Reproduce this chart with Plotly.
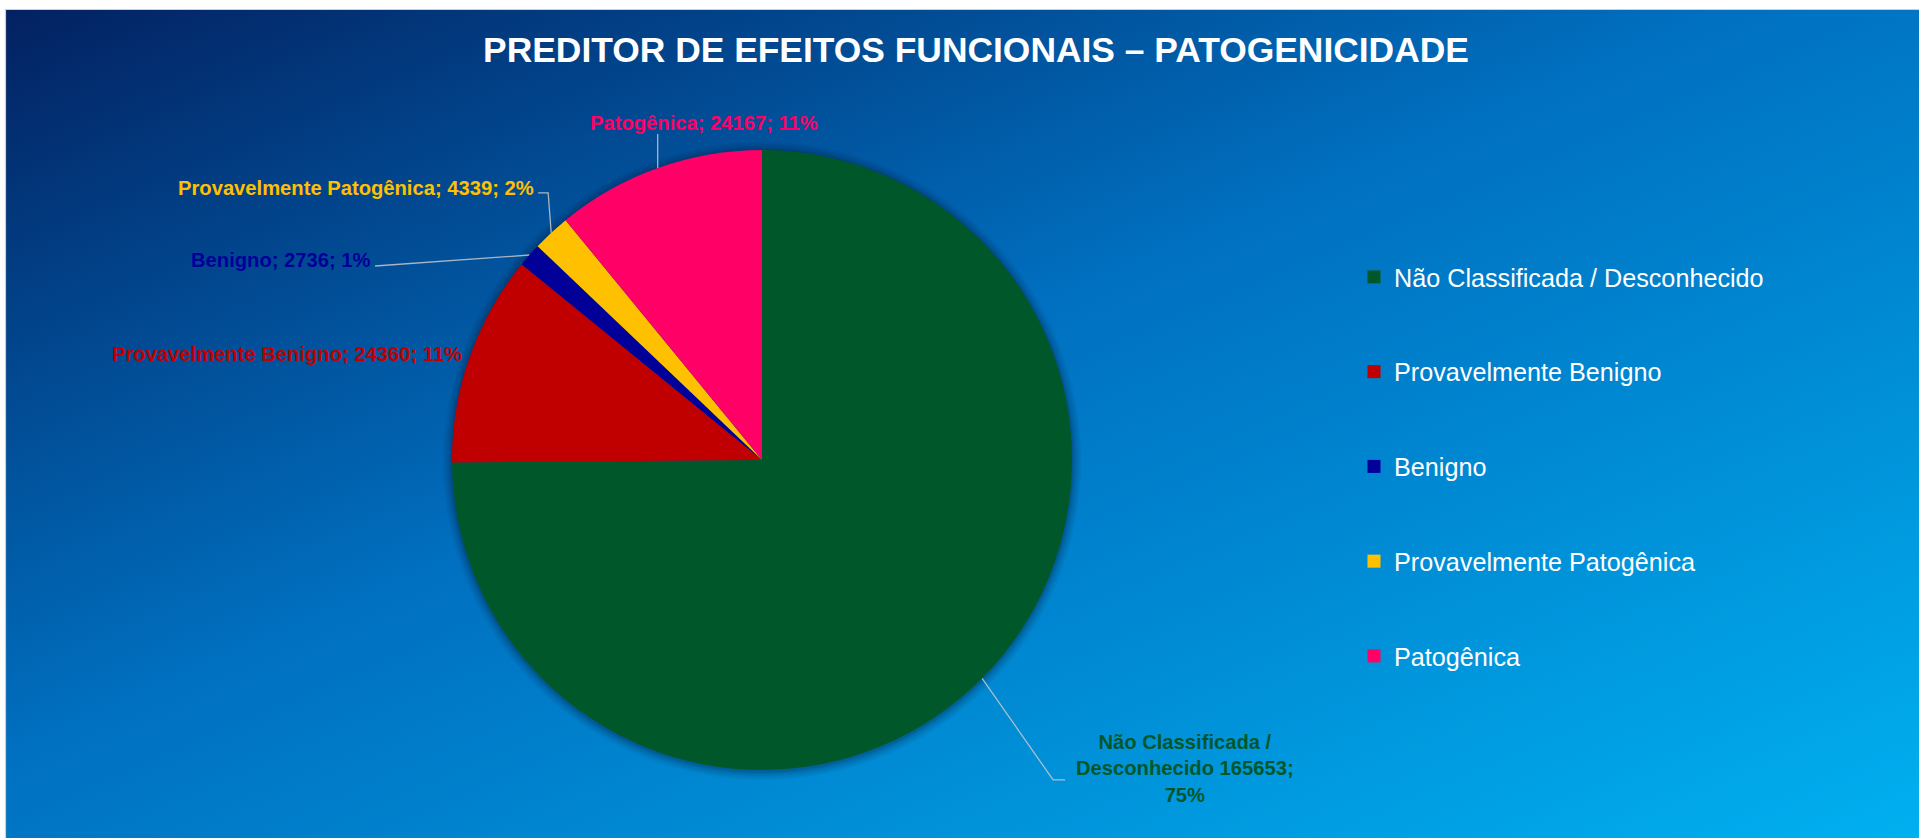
import base64
import math
import plotly.graph_objects as go

# ---------------- data ----------------
categories = [
    "Não Classificada / Desconhecido",
    "Provavelmente Benigno",
    "Benigno",
    "Provavelmente Patogênica",
    "Patogênica",
]
values = [165653, 24360, 2736, 4339, 24167]
slice_colors = ["#00582A", "#C00000", "#000099", "#FFC000", "#FF0066"]
title_text = "PREDITOR DE EFEITOS FUNCIONAIS – PATOGENICIDADE"

# ---------------- geometry / style ----------------
W, H = 1919, 838
CX, CY, R = 762, 460, 310          # pie centre / radius in pixels
FRAME_X0, FRAME_Y0 = 6, 10         # white strip around the chart area
FONT = "Liberation Sans, Arial, sans-serif"
LABEL_SIZE = 20.2
LEGEND_SIZE = 25.2
TITLE_SIZE = 35.4
LEADER_COLOR = "rgba(200,200,200,0.85)"

total = sum(values)
percents = [round(v / total * 100) for v in values]

# label texts (Excel-like "Category; value; pct")
label_texts = [f"{c}; {v}; {p}%" for c, v, p in zip(categories, values, percents)]
label_texts[0] = f"Não Classificada /<br>Desconhecido {values[0]};<br>{percents[0]}%"

# per-label placement relative to the slice anchor point (pixels)
label_style = [
    dict(off=(202.5, 90.5), xanchor="center", leader=[(71, 101.6), (83, 101.6)]),
    dict(off=(-6, -3.3), xanchor="right", leader=[]),
    dict(off=(-156, 5), xanchor="right", leader=[(-154.4, 11)]),
    dict(off=(-15.5, -44.8), xanchor="right", leader=[(-3, -39.8), (-13, -39.8)]),
    dict(off=(46.5, -45), xanchor="center", leader=[(0, -34)]),
]

fig = go.Figure()

# ---------------- pie ----------------
fig.add_trace(go.Pie(
    labels=categories,
    values=values,
    sort=False,
    direction="clockwise",
    rotation=0,
    marker=dict(colors=slice_colors, line=dict(width=0)),
    textposition="none",
    showlegend=False,
    hoverinfo="label+value+percent",
    domain=dict(
        x=[(CX - R) / W, (CX + R) / W],
        y=[(H - CY - R) / H, (H - CY + R) / H],
    ),
))

# ---------------- legend (dummy traces, one group each for spacing) ----------------
for cat, col in zip(categories, slice_colors):
    fig.add_trace(go.Scatter(
        x=[None], y=[None], mode="markers", name=cat, legendgroup=cat,
        marker=dict(symbol="square", size=13, color=col),
        showlegend=True, hoverinfo="skip",
    ))

# ---------------- data labels + leader lines ----------------
annotations = []
cum = 0
for i, v in enumerate(values):
    theta = 2 * math.pi * (cum + v / 2) / total
    cum += v
    ax = CX + R * math.sin(theta)
    ay = CY - R * math.cos(theta)
    st = label_style[i]
    annotations.append(dict(
        x=ax + st["off"][0], y=ay + st["off"][1], xref="x", yref="y",
        text=f"<b>{label_texts[i]}</b>", showarrow=False,
        xanchor=st["xanchor"], yanchor="middle", align="center",
        font=dict(family=FONT, size=LABEL_SIZE, color=slice_colors[i]),
    ))
    if st["leader"]:
        xs = [ax] + [ax + p[0] for p in st["leader"]]
        ys = [ay] + [ay + p[1] for p in st["leader"]]
        fig.add_trace(go.Scatter(
            x=xs, y=ys, mode="lines", showlegend=False, hoverinfo="skip",
            line=dict(color=LEADER_COLOR, width=1.3),
        ))

# ---------------- background gradient ----------------
bw, bh = W - FRAME_X0, H - FRAME_Y0
svg = (
    f'<svg xmlns="http://www.w3.org/2000/svg" width="{bw}" height="{bh}" '
    f'viewBox="0 0 {bw} {bh}" preserveAspectRatio="none">'
    '<defs><linearGradient id="g" x1="0" y1="0" x2="1" y2="1">'
    '<stop offset="0" stop-color="#032161"/>'
    '<stop offset="0.45" stop-color="#0070C0"/>'
    '<stop offset="1" stop-color="#00B0F0"/>'
    '</linearGradient></defs>'
    f'<rect width="{bw}" height="{bh}" fill="url(#g)"/></svg>'
)
src = "data:image/svg+xml;base64," + base64.b64encode(svg.encode()).decode()

shapes = []
# soft shadow around the pie
for k, a in [(9, 0.05), (7, 0.06), (5, 0.07), (3, 0.08), (1.5, 0.1)]:
    shapes.append(dict(
        type="circle", xref="x", yref="y", layer="below",
        x0=CX - R - k, x1=CX + R + k, y0=CY - R - k + 1, y1=CY + R + k + 1,
        fillcolor=f"rgba(0,10,40,{a})", line=dict(width=0),
    ))
# light frame line
shapes.append(dict(
    type="rect", xref="x", yref="y", layer="above",
    x0=FRAME_X0 - 0.5, x1=W + 2, y0=FRAME_Y0 - 0.5, y1=H + 2,
    line=dict(color="#CFCFCF", width=1.2), fillcolor="rgba(0,0,0,0)",
))

fig.update_layout(
    width=W, height=H,
    margin=dict(l=0, r=0, t=0, b=0, pad=0),
    paper_bgcolor="white",
    plot_bgcolor="rgba(0,0,0,0)",
    images=[dict(
        source=src, xref="paper", yref="paper",
        x=FRAME_X0 / W, y=1 - FRAME_Y0 / H,
        sizex=1 - FRAME_X0 / W, sizey=1 - FRAME_Y0 / H,
        xanchor="left", yanchor="top", sizing="stretch", layer="below",
    )],
    xaxis=dict(range=[0, W], visible=False, fixedrange=True, domain=[0, 1]),
    yaxis=dict(range=[H, 0], visible=False, fixedrange=True, domain=[0, 1]),
    title=dict(
        text=f"<b>{title_text}</b>",
        x=976 / W, xanchor="center", xref="paper",
        y=1 - 50 / H, yanchor="middle", yref="paper",
        font=dict(family=FONT, size=TITLE_SIZE, color="white"),
    ),
    legend=dict(
        x=1354 / W, xanchor="left",
        y=1 - 254 / H, yanchor="top",
        font=dict(family=FONT, size=LEGEND_SIZE, color="white"),
        bgcolor="rgba(0,0,0,0)",
        tracegroupgap=59,
        itemclick=False, itemdoubleclick=False,
    ),
    annotations=annotations,
    shapes=shapes,
    showlegend=True,
)

fig.write_html(
    "out.html",
    config=dict(displayModeBar=False),
    post_script="document.body.style.margin='0';document.body.style.overflow='hidden';",
)
